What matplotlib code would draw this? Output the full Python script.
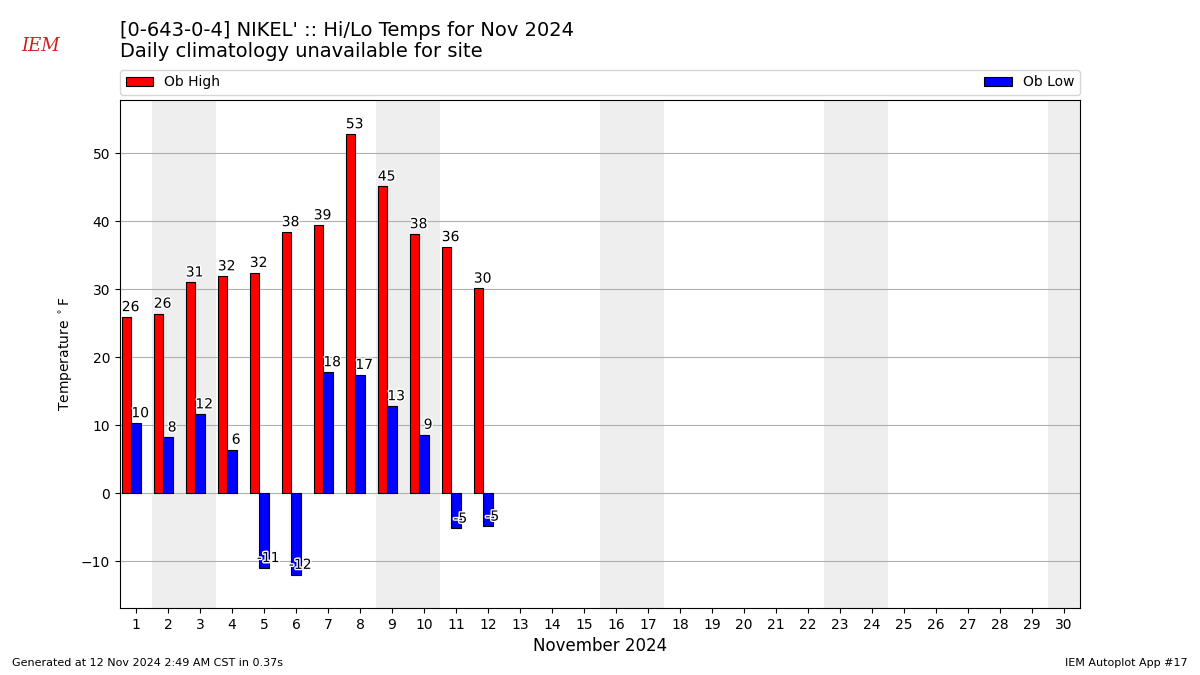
import matplotlib
matplotlib.use("Agg")
import matplotlib.pyplot as plt
import matplotlib.patheffects as pe
import numpy as np

# observed data, Nov 2024
days = [1, 2, 3, 4, 5, 6, 7, 8, 9, 10, 11, 12]
highs = [25.9, 26.4, 31.0, 31.9, 32.4, 38.4, 39.4, 52.8, 45.1, 38.1, 36.2, 30.1]
lows = [10.3, 8.2, 11.6, 6.4, -11.0, -12.0, 17.8, 17.4, 12.8, 8.6, -5.2, -4.9]
weekend_days = [2, 3, 9, 10, 16, 17, 23, 24, 30]
month_days = list(range(1, 31))

fig = plt.figure(figsize=(12, 6.75), dpi=100)
ax = fig.add_axes([0.1, 0.0993, 0.8, 0.7526])

for d in weekend_days:
    ax.axvspan(d - 0.5, d + 0.5, color="#eeeeee", zorder=0, lw=0)

x = np.array(days)
width = 0.3
b1 = ax.bar(x - 0.3, highs, width, color="r", edgecolor="k", lw=0.8, label="Ob High", zorder=3)
b2 = ax.bar(x, lows, width, color="b", edgecolor="k", lw=0.8, label="Ob Low", zorder=3)

stroke = [pe.withStroke(linewidth=2, foreground="white")]
for bars, vals in ((b1, highs), (b2, lows)):
    for rect, v in zip(bars, vals):
        ax.annotate("%.0f" % v, (rect.get_x() + rect.get_width() / 2.0, v),
                    xytext=(3, 2), textcoords="offset points", ha="center", va="bottom",
                    fontsize=10, zorder=5, path_effects=stroke)

ax.set_xlim(0.5, 30.5)
ax.set_ylim(-16.9, 57.8)
ax.set_xticks(month_days)
ax.set_xticklabels([str(d) for d in month_days])
ax.set_yticks([-10, 0, 10, 20, 30, 40, 50])
ax.yaxis.grid(True, color="#b0b0b0", zorder=1)
ax.set_axisbelow(True)
ax.set_xlabel("November 2024", fontsize=12)
ax.set_ylabel(r"Temperature $^\circ$F")

ax.legend(loc="lower left", bbox_to_anchor=(0, 1.01, 1, 0.05), mode="expand",
          ncol=2, borderaxespad=0, fontsize=10)

fig.text(0.1, 0.955, "[0-643-0-4] NIKEL' :: Hi/Lo Temps for Nov 2024", fontsize=14, va="center")
fig.text(0.1, 0.924, "Daily climatology unavailable for site", fontsize=14, va="center")

# stand-in for the IEM logo
fig.text(0.0175, 0.932, "IEM", color="#d02020", fontsize=13, family="DejaVu Serif",
         style="italic", va="center")

fig.text(0.01, 0.013, "Generated at 12 Nov 2024 2:49 AM CST in 0.37s", fontsize=8)
fig.text(0.99, 0.013, "IEM Autoplot App #17", fontsize=8, ha="right")

fig.savefig("out.png", dpi=100)
